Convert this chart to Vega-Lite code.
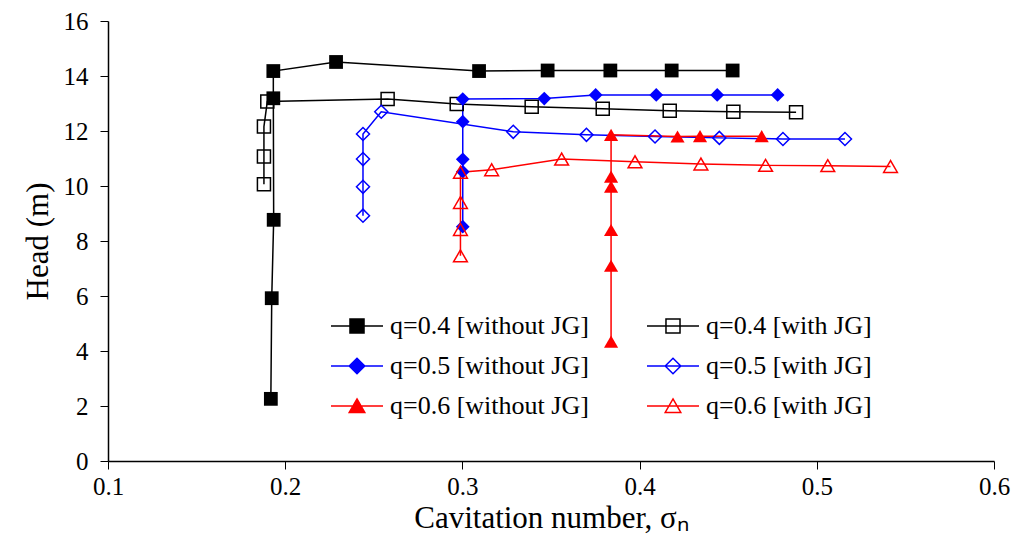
{
  "$schema": "https://vega.github.io/schema/vega-lite/v6.json",
  "width": 886,
  "height": 440,
  "autosize": {"type": "none"},
  "padding": {"left": 108, "top": 21, "right": 30, "bottom": 84},
  "background": "white",
  "config": {
    "view": {"stroke": null},
    "font": "Liberation Serif",
    "axis": {
      "grid": false,
      "domainColor": "black",
      "domainWidth": 1.5,
      "tickColor": "black",
      "tickWidth": 1,
      "tickSize": 8,
      "labelFlush": false,
      "labelFont": "Liberation Serif",
      "labelFontSize": 25,
      "labelColor": "black",
      "titleFont": "Liberation Serif",
      "titleFontSize": 31,
      "titleFontWeight": "normal",
      "titleColor": "black"
    },
    "legend": {"labelFont": "Liberation Serif"}
  },
  "data": {
    "values": [
      {"s": "q=0.4 [without JG]", "o": 1, "x": 0.1919, "y": 2.26},
      {"s": "q=0.4 [without JG]", "o": 2, "x": 0.1924, "y": 5.92},
      {"s": "q=0.4 [without JG]", "o": 3, "x": 0.1935, "y": 8.77},
      {"s": "q=0.4 [without JG]", "o": 4, "x": 0.1933, "y": 13.19},
      {"s": "q=0.4 [without JG]", "o": 5, "x": 0.1933, "y": 14.18},
      {"s": "q=0.4 [without JG]", "o": 6, "x": 0.2287, "y": 14.51},
      {"s": "q=0.4 [without JG]", "o": 7, "x": 0.3094, "y": 14.18},
      {"s": "q=0.4 [without JG]", "o": 8, "x": 0.3481, "y": 14.2},
      {"s": "q=0.4 [without JG]", "o": 9, "x": 0.3835, "y": 14.2},
      {"s": "q=0.4 [without JG]", "o": 10, "x": 0.4181, "y": 14.2},
      {"s": "q=0.4 [without JG]", "o": 11, "x": 0.4525, "y": 14.2},

      {"s": "q=0.4 [with JG]", "o": 1, "x": 0.188, "y": 10.06},
      {"s": "q=0.4 [with JG]", "o": 2, "x": 0.188, "y": 11.07},
      {"s": "q=0.4 [with JG]", "o": 3, "x": 0.188, "y": 12.16},
      {"s": "q=0.4 [with JG]", "o": 4, "x": 0.1899, "y": 13.07},
      {"s": "q=0.4 [with JG]", "o": 5, "x": 0.2578, "y": 13.16},
      {"s": "q=0.4 [with JG]", "o": 6, "x": 0.2968, "y": 12.98},
      {"s": "q=0.4 [with JG]", "o": 7, "x": 0.3391, "y": 12.88},
      {"s": "q=0.4 [with JG]", "o": 8, "x": 0.3792, "y": 12.81},
      {"s": "q=0.4 [with JG]", "o": 9, "x": 0.417, "y": 12.74},
      {"s": "q=0.4 [with JG]", "o": 10, "x": 0.4529, "y": 12.7},
      {"s": "q=0.4 [with JG]", "o": 11, "x": 0.4883, "y": 12.68},

      {"s": "q=0.5 [without JG]", "o": 1, "x": 0.3002, "y": 8.52},
      {"s": "q=0.5 [without JG]", "o": 2, "x": 0.3002, "y": 10.52},
      {"s": "q=0.5 [without JG]", "o": 3, "x": 0.3002, "y": 10.97},
      {"s": "q=0.5 [without JG]", "o": 4, "x": 0.3002, "y": 12.34},
      {"s": "q=0.5 [without JG]", "o": 5, "x": 0.3002, "y": 13.16},
      {"s": "q=0.5 [without JG]", "o": 6, "x": 0.3462, "y": 13.18},
      {"s": "q=0.5 [without JG]", "o": 7, "x": 0.3752, "y": 13.31},
      {"s": "q=0.5 [without JG]", "o": 8, "x": 0.4094, "y": 13.31},
      {"s": "q=0.5 [without JG]", "o": 9, "x": 0.4438, "y": 13.31},
      {"s": "q=0.5 [without JG]", "o": 10, "x": 0.4779, "y": 13.31},

      {"s": "q=0.5 [with JG]", "o": 1, "x": 0.2439, "y": 8.92},
      {"s": "q=0.5 [with JG]", "o": 2, "x": 0.2439, "y": 9.97},
      {"s": "q=0.5 [with JG]", "o": 3, "x": 0.2439, "y": 10.98},
      {"s": "q=0.5 [with JG]", "o": 4, "x": 0.2439, "y": 11.89},
      {"s": "q=0.5 [with JG]", "o": 5, "x": 0.2542, "y": 12.7},
      {"s": "q=0.5 [with JG]", "o": 6, "x": 0.3287, "y": 11.97},
      {"s": "q=0.5 [with JG]", "o": 7, "x": 0.37, "y": 11.86},
      {"s": "q=0.5 [with JG]", "o": 8, "x": 0.4087, "y": 11.8},
      {"s": "q=0.5 [with JG]", "o": 9, "x": 0.445, "y": 11.75},
      {"s": "q=0.5 [with JG]", "o": 10, "x": 0.4809, "y": 11.71},
      {"s": "q=0.5 [with JG]", "o": 11, "x": 0.5159, "y": 11.71},

      {"s": "q=0.6 [without JG]", "o": 1, "x": 0.3839, "y": 4.34},
      {"s": "q=0.6 [without JG]", "o": 2, "x": 0.3839, "y": 7.1},
      {"s": "q=0.6 [without JG]", "o": 3, "x": 0.3839, "y": 8.4},
      {"s": "q=0.6 [without JG]", "o": 4, "x": 0.3839, "y": 9.98},
      {"s": "q=0.6 [without JG]", "o": 5, "x": 0.3839, "y": 10.34},
      {"s": "q=0.6 [without JG]", "o": 6, "x": 0.3839, "y": 11.86},
      {"s": "q=0.6 [without JG]", "o": 7, "x": 0.4214, "y": 11.8},
      {"s": "q=0.6 [without JG]", "o": 8, "x": 0.4341, "y": 11.81},
      {"s": "q=0.6 [without JG]", "o": 9, "x": 0.4689, "y": 11.81},

      {"s": "q=0.6 [with JG]", "o": 1, "x": 0.2989, "y": 7.46},
      {"s": "q=0.6 [with JG]", "o": 2, "x": 0.2989, "y": 8.42},
      {"s": "q=0.6 [with JG]", "o": 3, "x": 0.2989, "y": 9.4},
      {"s": "q=0.6 [with JG]", "o": 4, "x": 0.2989, "y": 10.5},
      {"s": "q=0.6 [with JG]", "o": 5, "x": 0.3165, "y": 10.59},
      {"s": "q=0.6 [with JG]", "o": 6, "x": 0.356, "y": 10.98},
      {"s": "q=0.6 [with JG]", "o": 7, "x": 0.3974, "y": 10.88},
      {"s": "q=0.6 [with JG]", "o": 8, "x": 0.4346, "y": 10.8},
      {"s": "q=0.6 [with JG]", "o": 9, "x": 0.4711, "y": 10.75},
      {"s": "q=0.6 [with JG]", "o": 10, "x": 0.5062, "y": 10.74},
      {"s": "q=0.6 [with JG]", "o": 11, "x": 0.5416, "y": 10.71}
    ]
  },
  "encoding": {
    "x": {
      "field": "x", "type": "quantitative",
      "scale": {"domain": [0.1, 0.6], "nice": false, "zero": false},
      "axis": {"values": [0.1, 0.2, 0.3, 0.4, 0.5, 0.6], "format": ".1f", "labelFlush": false, "labelPadding": 5, "labelFont": "Liberation Serif", "labelFontSize": 25, "title": "Cavitation number, σₙ", "titlePadding": 4}
    },
    "y": {
      "field": "y", "type": "quantitative",
      "scale": {"domain": [0, 16], "nice": false},
      "axis": {"values": [0, 2, 4, 6, 8, 10, 12, 14, 16], "labelFlush": false, "labelPadding": 12, "labelFont": "Liberation Serif", "labelFontSize": 25, "title": "Head (m)", "titleX": -70, "titleY": 220, "titleAngle": -90, "titleBaseline": "middle", "titleAlign": "center"}
    }
  },
  "layer": [
    {
      "mark": {"type": "line", "strokeWidth": 1.5},
      "encoding": {
        "order": {"field": "o", "type": "quantitative"},
        "color": {
          "field": "s", "type": "nominal",
          "scale": {
            "domain": ["q=0.4 [without JG]", "q=0.4 [with JG]", "q=0.5 [without JG]", "q=0.5 [with JG]", "q=0.6 [without JG]", "q=0.6 [with JG]"],
            "range": ["#000000", "#000000", "#0000ff", "#0000ff", "#ff0000", "#ff0000"]
          },
          "legend": {
            "title": null,
            "orient": "none",
            "legendX": 222,
            "legendY": 278,
            "direction": "horizontal",
            "columns": 2,
            "columnPadding": 55,
            "rowPadding": -9,
            "padding": 0,
            "symbolSize": 2704,
            "symbolStrokeWidth": 1.5,
            "labelFont": "Liberation Serif",
            "labelFontSize": 26,
            "labelColor": "black",
            "labelLimit": 400,
            "labelOffset": 6,
            "encode": {
              "symbols": {
                "update": {
                  "shape": {"signal": "indexof(datum.value,'0.4')>=0 ? 'M-1,0H1M-0.27,-0.27H0.27V0.27H-0.27Z' : indexof(datum.value,'0.5')>=0 ? 'M-1,0H1M-0.3,0L0,-0.3L0.3,0L0,0.3Z' : 'M-1,0H1M0,-0.27L0.3,0.25H-0.3Z'"},
                  "fill": {"signal": "indexof(datum.value,'without')>=0 ? scale('color', datum.value) : 'transparent'"},
                  "stroke": {"signal": "scale('color', datum.value)"},
                  "strokeWidth": {"value": 1.5},
                  "opacity": {"value": 1}
                }
              }
            }
          }
        }
      }
    },
    {
      "transform": [{"filter": "datum.s === 'q=0.4 [without JG]'"}],
      "mark": {"type": "point", "shape": "square", "filled": true, "color": "#000000", "size": 190, "opacity": 1}
    },
    {
      "transform": [{"filter": "datum.s === 'q=0.4 [with JG]'"}],
      "mark": {"type": "point", "shape": "square", "filled": false, "color": "#000000", "size": 170, "strokeWidth": 1.5, "opacity": 1}
    },
    {
      "transform": [{"filter": "datum.s === 'q=0.5 [without JG]'"}],
      "mark": {"type": "point", "shape": "diamond", "filled": true, "color": "#0000ff", "size": 190, "opacity": 1}
    },
    {
      "transform": [{"filter": "datum.s === 'q=0.5 [with JG]'"}],
      "mark": {"type": "point", "shape": "diamond", "filled": false, "color": "#0000ff", "size": 170, "strokeWidth": 1.5, "opacity": 1}
    },
    {
      "transform": [{"filter": "datum.s === 'q=0.6 [without JG]'"}],
      "mark": {"type": "point", "shape": "triangle-up", "filled": true, "color": "#ff0000", "size": 200, "opacity": 1}
    },
    {
      "transform": [{"filter": "datum.s === 'q=0.6 [with JG]'"}],
      "mark": {"type": "point", "shape": "triangle-up", "filled": false, "color": "#ff0000", "size": 190, "strokeWidth": 1.5, "opacity": 1}
    }
  ]
}
